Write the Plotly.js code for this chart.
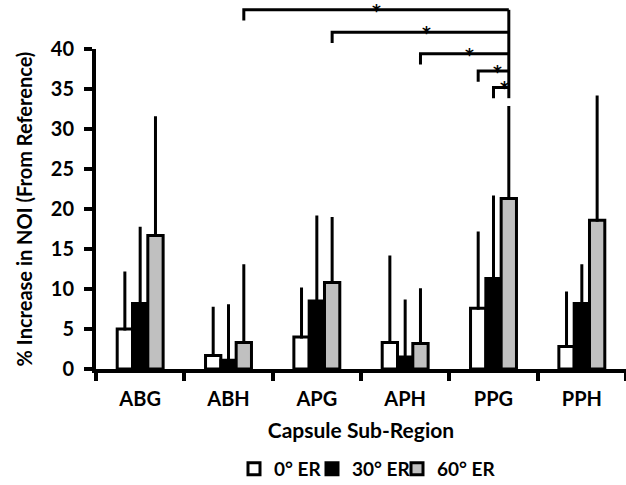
<!DOCTYPE html>
<html>
<head>
<meta charset="utf-8">
<script src="https://cdn.plot.ly/plotly-3.0.1.min.js"></script>
<style>html,body{margin:0;padding:0;background:#fff;}#chart{width:626px;height:485px;}</style>
</head>
<body>
<div id="chart"></div>
<script>
// ---- data ----
var categories = ['ABG', 'ABH', 'APG', 'APH', 'PPG', 'PPH'];
var seriesNames = ['0° ER', '30° ER', '60° ER'];
var er0 = [5.0, 1.7, 4.0, 3.3, 7.6, 2.8];
var er0Err = [7.0, 5.9, 6.0, 10.7, 9.4, 6.7];
var er30 = [8.2, 1.1, 8.5, 1.5, 11.3, 8.2];
var er30Err = [9.4, 6.8, 10.5, 7.0, 10.2, 4.7];
var er60 = [16.7, 3.3, 10.8, 3.2, 21.3, 18.6];
var er60Err = [14.7, 9.6, 8.0, 6.7, 11.4, 15.4];
// significance comparisons: [category index, series index] pairs (all vs PPG 60°)
var sigFrom = [[1, 2], [2, 2], [3, 2], [4, 0], [4, 1]];
var sigTo = [4, 2];
var sigLabel = ['*', '*', '*', '*', '*'];

// ---- style ----
var FONT = 'Lato, "Open Sans", "Liberation Sans", sans-serif';
var STARFONT = '"DejaVu Sans", Lato, sans-serif';
var fills = ['#ffffff', '#000000', '#c0c0c0'];
var BARGAP = 0.48;
var ML = 96, PW = 626 - ML;
var values = [er0, er30, er60];
var errs = [er0Err, er30Err, er60Err];
var legendIds = ['legend', 'legend2', 'legend3'];

var traces = values.map(function (v, j) {
  return {
    type: 'bar',
    name: seriesNames[j],
    x: categories,
    y: v,
    legend: legendIds[j],
    marker: {color: fills[j], line: {color: '#000', width: 3}},
    error_y: {type: 'data', symmetric: false, array: errs[j], arrayminus: v.map(function () { return 0; }),
      color: '#000', thickness: 3, width: 1.5}
  };
});

// bracket geometry (levels in y-axis units, converted to paper)
var levels = [44.9, 42.1, 39.4, 37.25, 35.2];
var legLen = 1.35;
var w = (1 - BARGAP) / 3;
function cx(pair) { return pair[0] + (pair[1] - 1) * w; }
var shapes = [];
var annotations = [];
var xr = cx(sigTo);
var starShift = [0, 0.07, 0.06, 0.04, 0.04];
sigFrom.forEach(function (p, k) {
  var xl = cx(p);
  var yl = levels[k] / 40;
  var yb = (levels[k] - legLen) / 40;
  shapes.push({type: 'path', xref: 'x', yref: 'paper',
    path: 'M' + xl + ',' + yb + ' L' + xl + ',' + yl + ' L' + xr + ',' + yl,
    line: {color: '#000', width: 3}});
  annotations.push({xref: 'x', yref: 'paper', x: (xl + xr) / 2 + starShift[k], y: yl, text: sigLabel[k],
    showarrow: false, yanchor: 'middle', xanchor: 'center', yshift: -1,
    font: {family: STARFONT, size: 17, weight: 'bold', color: '#000'}});
});
shapes.push({type: 'line', xref: 'x', yref: 'paper', x0: xr, x1: xr,
  y0: (levels[levels.length - 1] - legLen) / 40, y1: levels[0] / 40, line: {color: '#000', width: 3}});

// legend placement (one legend per series, left edge in px)
var legendLeft = [234, 312, 397];
function legendObj(px) {
  return {orientation: 'h', x: (px - ML) / PW, xanchor: 'left', y: -0.3125, yanchor: 'middle',
    font: {family: FONT, size: 19, weight: 'bold', color: '#000'}, itemwidth: 30, bgcolor: 'rgba(0,0,0,0)'};
}

var layout = {
  width: 626, height: 485,
  margin: {l: ML, r: 0, t: 49, b: 116, autoexpand: false},
  paper_bgcolor: '#fff', plot_bgcolor: 'rgba(0,0,0,0)',
  barmode: 'group', bargap: BARGAP, bargroupgap: 0,
  font: {family: FONT, color: '#000'},
  showlegend: true,
  legend: legendObj(legendLeft[0]),
  legend2: legendObj(legendLeft[1]),
  legend3: legendObj(legendLeft[2]),
  xaxis: {type: 'category', range: [-0.5, 5.5], showgrid: false, zeroline: false, automargin: false,
    showline: true, linecolor: '#000', linewidth: 4,
    ticks: 'outside', tickson: 'boundaries', ticklen: 8, tickwidth: 4, tickcolor: '#000',
    tickfont: {family: FONT, size: 20, weight: 'bold', color: '#000'}, ticklabelstandoff: 9,
    title: {text: 'Capsule Sub-Region', font: {family: FONT, size: 21, weight: 'bold', color: '#000'}, standoff: 15}},
  yaxis: {range: [0, 40], dtick: 5, showgrid: false, zeroline: false, automargin: false,
    showline: true, linecolor: '#000', linewidth: 4,
    ticks: 'outside', ticklen: 8, tickwidth: 4, tickcolor: '#000',
    tickfont: {family: FONT, size: 20, weight: 'bold', color: '#000'}, ticklabelstandoff: 6,
    title: {text: '% Increase in NOI (From Reference)', font: {family: FONT, size: 20, weight: 'bold', color: '#000'}, standoff: 14}},
  xaxis2: {overlaying: 'x', anchor: 'y', side: 'bottom', range: [-0.5, 5.5], tickvals: [0.5, 1.5, 2.5, 3.5, 4.5, 5.5],
    ticks: 'inside', ticklen: 7, tickwidth: 4, tickcolor: '#000', showticklabels: false, showgrid: false, zeroline: false, showline: false},
  yaxis2: {overlaying: 'y', anchor: 'x', side: 'left', range: [0, 40], dtick: 5,
    ticks: 'inside', ticklen: 6, tickwidth: 4, tickcolor: '#000', showticklabels: false, showgrid: false, zeroline: false, showline: false},
  shapes: shapes,
  annotations: annotations
};

Plotly.newPlot('chart', traces, layout, {displayModeBar: false, staticPlot: true});
</script>
</body>
</html>
